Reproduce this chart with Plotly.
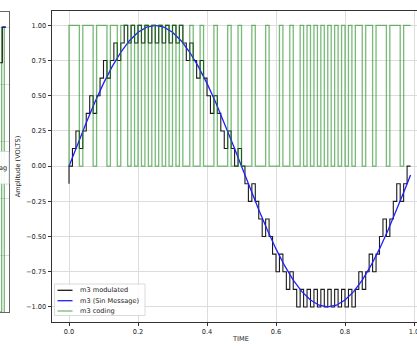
import plotly.graph_objects as go

# ---------------- data ----------------
TIME = [0.00, 0.01, 0.02, 0.03, 0.04, 0.05, 0.06, 0.07, 0.08, 0.09,
        0.10, 0.11, 0.12, 0.13, 0.14, 0.15, 0.16, 0.17, 0.18, 0.19,
        0.20, 0.21, 0.22, 0.23, 0.24, 0.25, 0.26, 0.27, 0.28, 0.29,
        0.30, 0.31, 0.32, 0.33, 0.34, 0.35, 0.36, 0.37, 0.38, 0.39,
        0.40, 0.41, 0.42, 0.43, 0.44, 0.45, 0.46, 0.47, 0.48, 0.49,
        0.50, 0.51, 0.52, 0.53, 0.54, 0.55, 0.56, 0.57, 0.58, 0.59,
        0.60, 0.61, 0.62, 0.63, 0.64, 0.65, 0.66, 0.67, 0.68, 0.69,
        0.70, 0.71, 0.72, 0.73, 0.74, 0.75, 0.76, 0.77, 0.78, 0.79,
        0.80, 0.81, 0.82, 0.83, 0.84, 0.85, 0.86, 0.87, 0.88, 0.89,
        0.90, 0.91, 0.92, 0.93, 0.94, 0.95, 0.96, 0.97, 0.98, 0.99]

# m3 modulated (staircase levels, volts)
MODULATED = [-0.125, 0.0, 0.125, 0.25, 0.125, 0.25, 0.375, 0.5, 0.375, 0.5,
             0.625, 0.75, 0.625, 0.75, 0.875, 0.75, 0.875, 1.0, 0.875, 1.0,
             0.875, 1.0, 0.875, 1.0, 0.875, 1.0, 0.875, 1.0, 0.875, 1.0,
             0.875, 1.0, 0.875, 1.0, 0.875, 0.75, 0.875, 0.75, 0.625, 0.75,
             0.625, 0.5, 0.375, 0.5, 0.375, 0.25, 0.125, 0.25, 0.125, 0.0,
             0.125, 0.0, -0.125, -0.25, -0.125, -0.25, -0.375, -0.5, -0.375, -0.5,
             -0.625, -0.75, -0.625, -0.75, -0.875, -0.75, -0.875, -1.0, -0.875, -1.0,
             -0.875, -1.0, -0.875, -1.0, -0.875, -1.0, -0.875, -1.0, -0.875, -1.0,
             -0.875, -1.0, -0.875, -1.0, -0.875, -0.75, -0.875, -0.75, -0.625, -0.75,
             -0.625, -0.5, -0.375, -0.5, -0.375, -0.25, -0.125, -0.25, -0.125, 0.0]

# m3 coding (bits)
CODING = [0, 1, 1, 1, 0, 1, 1, 1, 0, 1, 1, 1, 0, 1, 1, 0, 1, 1, 0, 1, 0, 1, 0, 1, 0,
          1, 0, 1, 0, 1, 0, 1, 0, 1, 0, 0, 1, 0, 0, 1, 0, 0, 0, 1, 0, 0, 0, 1, 0, 0,
          1, 0, 0, 0, 1, 0, 0, 0, 1, 0, 0, 0, 1, 0, 0, 1, 0, 0, 1, 0, 1, 0, 1, 0, 1,
          0, 1, 0, 1, 0, 1, 0, 1, 0, 1, 1, 0, 1, 1, 0, 1, 1, 1, 0, 1, 1, 1, 0, 1, 1]

# m3 (Sin Message)
MSG_T = [0.000, 0.025, 0.050, 0.075, 0.100, 0.125, 0.150, 0.175, 0.200, 0.225,
         0.250, 0.275, 0.300, 0.325, 0.350, 0.375, 0.400, 0.425, 0.450, 0.475,
         0.500, 0.525, 0.550, 0.575, 0.600, 0.625, 0.650, 0.675, 0.700, 0.725,
         0.750, 0.775, 0.800, 0.825, 0.850, 0.875, 0.900, 0.925, 0.950, 0.975, 0.990]
MSG_V = [0.0, 0.1564, 0.3090, 0.4540, 0.5878, 0.7071, 0.8090, 0.8910, 0.9511, 0.9877,
         1.0, 0.9877, 0.9511, 0.8910, 0.8090, 0.7071, 0.5878, 0.4540, 0.3090, 0.1564,
         0.0, -0.1564, -0.3090, -0.4540, -0.5878, -0.7071, -0.8090, -0.8910, -0.9511, -0.9877,
         -1.0, -0.9877, -0.9511, -0.8910, -0.8090, -0.7071, -0.5878, -0.4540, -0.3090, -0.1564, -0.0628]

SERIES_NAMES = ["m3 modulated", "m3 (Sin Message)", "m3 coding"]
SERIES_COLORS = ["#1a1a1a", "#1f1fff", "rgba(30,140,30,0.6)"]

X_TICKS = [0.0, 0.2, 0.4, 0.6, 0.8, 1.0]
Y_TICKS = [-1.0, -0.75, -0.5, -0.25, 0.0, 0.25, 0.5, 0.75, 1.0]

# clipped neighbouring panel at the far left
FRAG_CODE_X = [0.0, 0.18, 0.18, 0.46, 0.46]
FRAG_CODE_Y = [0.0, 0.0, 1.0, 1.0, 0.0]
FRAG_MOD_X = [0.0, 0.25, 0.25, 0.65]
FRAG_MOD_Y = [0.875, 0.875, 1.0, 1.0]
FRAG_MSG_X = [0.3, 0.6]
FRAG_MSG_Y = [1.0, 1.0]
FRAG_Y_TICKS = [0.0, 0.2, 0.4, 0.6, 0.8, 1.0]
FRAG_LEGEND_TEXT = "ag"

# ---------------- layout helpers (pixel -> paper) ----------------
W, H = 417, 346
PT, PB = 11, 322
def px(x):
    return x / W
def py(y):
    return (PB - y) / (PB - PT)

FONT = dict(family="DejaVu Sans", size=6.6, color="#222222")

fig = go.Figure()
fig.add_trace(go.Scatter(x=TIME, y=MODULATED, mode="lines", name=SERIES_NAMES[0],
                         line=dict(color=SERIES_COLORS[0], width=1.1, shape="vh"), showlegend=False))
fig.add_trace(go.Scatter(x=MSG_T, y=MSG_V, mode="lines", name=SERIES_NAMES[1],
                         line=dict(color=SERIES_COLORS[1], width=1.3), showlegend=False))
fig.add_trace(go.Scatter(x=TIME, y=CODING, mode="lines", name=SERIES_NAMES[2],
                         line=dict(color=SERIES_COLORS[2], width=1.3, shape="vh"), showlegend=False))

# fragment panel traces
fig.add_trace(go.Scatter(x=FRAG_CODE_X, y=FRAG_CODE_Y, mode="lines", xaxis="x2", yaxis="y2",
                         line=dict(color=SERIES_COLORS[2], width=1.3), showlegend=False))
fig.add_trace(go.Scatter(x=FRAG_MOD_X, y=FRAG_MOD_Y, mode="lines", xaxis="x2", yaxis="y2",
                         line=dict(color=SERIES_COLORS[0], width=1.1), showlegend=False))
fig.add_trace(go.Scatter(x=FRAG_MSG_X, y=FRAG_MSG_Y, mode="lines", xaxis="x2", yaxis="y2",
                         line=dict(color=SERIES_COLORS[1], width=1.3), showlegend=False))

shapes = []
annotations = []

# manual legend (matplotlib style)
shapes.append(dict(type="rect", xref="paper", yref="paper", x0=px(54.5), x1=px(145), y0=py(315.5), y1=py(284),
                   fillcolor="rgba(255,255,255,0.85)", line=dict(color="#d0d0d0", width=0.8), layer="above"))
rows = [290.3, 300.7, 311.0]
for name, col, ry in zip(SERIES_NAMES, SERIES_COLORS, rows):
    shapes.append(dict(type="line", xref="paper", yref="paper", x0=px(57.5), x1=px(72.5), y0=py(ry), y1=py(ry),
                       line=dict(color=col, width=1.3), layer="above"))
    annotations.append(dict(x=px(78), y=py(ry), xref="paper", yref="paper", text=name, showarrow=False,
                            xanchor="left", yanchor="middle", font=FONT))

# fragment legend piece
shapes.append(dict(type="rect", xref="paper", yref="paper", x0=px(-6), x1=px(9), y0=py(184), y1=py(151.5),
                   fillcolor="rgba(255,255,255,0.9)", line=dict(color="#d0d0d0", width=0.8), layer="above"))
annotations.append(dict(x=px(8.6), y=py(168), xref="paper", yref="paper", text=FRAG_LEGEND_TEXT, showarrow=False,
                        xanchor="right", yanchor="middle", font=FONT))

# axis titles
annotations.append(dict(x=px(18.3), y=py(166), xref="paper", yref="paper", text="Amplitude (VOLTS)", showarrow=False,
                        textangle=-90, xanchor="center", yanchor="middle", font=FONT))
annotations.append(dict(x=px(241), y=py(339), xref="paper", yref="paper", text="TIME", showarrow=False,
                        xanchor="center", yanchor="middle", font=FONT))

fig.update_layout(
    width=W, height=H, margin=dict(l=0, r=0, t=PT, b=H - PB),
    plot_bgcolor="white", paper_bgcolor="white",
    shapes=shapes, annotations=annotations, showlegend=False,
    xaxis=dict(domain=[52 / W, 1], range=[-0.04928, 1.0087], tickvals=X_TICKS, tickformat=".1f",
               showgrid=True, gridcolor="#dcdcdc", gridwidth=0.8, showline=True, linecolor="#333333", linewidth=0.9,
               mirror=True, ticks="outside", ticklen=3.5, tickwidth=0.8, tickcolor="#333333",
               tickfont=FONT, zeroline=False, ticklabeloverflow="allow", automargin=False),
    yaxis=dict(range=[-1.107, 1.102], tickvals=Y_TICKS, tickformat=".2f",
               showgrid=True, gridcolor="#dcdcdc", gridwidth=0.8, showline=True, linecolor="#333333", linewidth=0.9,
               ticks="outside", ticklen=3.5, tickwidth=0.8, tickcolor="#333333",
               tickfont=FONT, zeroline=False, automargin=False),
    xaxis2=dict(domain=[0, 9.3 / W], range=[0, 1], showgrid=False, showticklabels=False, ticks="",
                showline=True, linecolor="#666666", linewidth=0.9, mirror=True, zeroline=False, anchor="y2"),
    yaxis2=dict(domain=[py(312), py(12)], range=[0, 1.053], tickvals=FRAG_Y_TICKS, showgrid=True,
                gridcolor="#dcdcdc", gridwidth=0.8, showticklabels=False, ticks="",
                showline=True, linecolor="#666666", linewidth=0.9, mirror=True, zeroline=False, anchor="x2"),
)

fig.write_html("out.html")
